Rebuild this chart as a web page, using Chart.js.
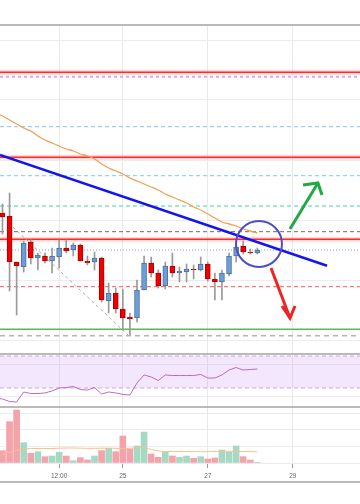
<!DOCTYPE html>
<html>
<head>
<meta charset="utf-8">
<script src="https://cdn.jsdelivr.net/npm/chart.js@4.4.3/dist/chart.umd.min.js"></script>
<style>
  html, body { margin: 0; padding: 0; background: #fff; }
  #wrap { width: 360px; height: 504px; }
</style>
</head>
<body>
<div id="wrap"><canvas id="chart" width="360" height="504"></canvas></div>
<script>
// x axis is the candle index
const opens  = [247, 244, 198, 193, 218, 202, 204, 199, 203, 212, 210, 215, 199, 198, 202, 159, 167, 151, 143, 142, 170, 197, 187, 174, 194, 187, 188, 191, 190, 196, 181, 178, 186, 204, 214, 208, 207];
const closes = [243, 198, 194, 217, 202, 205, 199, 204, 212, 209, 215, 199, 197, 202, 160, 167, 151, 142, 141, 170, 197, 187, 174, 194, 187, 189, 191, 190, 196, 181, 178, 187, 204, 213, 208, 207, 210];
const highs  = [256, 267, 198, 219, 220, 207, 207, 212, 220, 220, 217, 216, 204, 208, 203, 177, 172, 171, 147, 180, 204, 203, 190, 198, 207, 193, 196, 195, 203, 198, 187, 190, 207, 217, 219, 211, 212];
const lows   = [226, 169, 145, 188, 196, 190, 197, 187, 192, 207, 204, 199, 195, 190, 158, 147, 147, 130, 125, 138, 170, 183, 172, 171, 183, 178, 178, 181, 189, 179, 160, 160, 184, 198, 206, 206, 206];
const volumes = [7.4, 24.8, 31.8, 12.2, 5.8, 6.8, 3.8, 4.2, 6.4, 4.2, 1.4, 3.2, 1.8, 4.2, 7.4, 8.8, 6.8, 16.2, 8.4, 10.2, 18.6, 5.4, 3.4, 6.4, 4.2, 3.4, 4.2, 2.8, 3.8, 2.4, 3.0, 7.8, 6.4, 10.2, 3.8, 1.8, 0.2];
const volumeAvg = [5.1, 6.3, 7.5, 8.4, 8.7, 8.7, 8.7, 8.7, 8.9, 9.0, 9.0, 8.9, 8.8, 8.8, 8.9, 8.9, 8.8, 8.6, 8.9, 9.1, 9.3, 8.1, 7.2, 6.9, 6.9, 6.9, 6.9, 6.8, 6.8, 6.8, 6.9, 7.0, 7.0, 7.0, 6.9, 6.9, 6.7];
// these two start one candle before the first one
const priceAvg = [347, 344, 340, 336, 332, 329, 324, 320, 317, 314, 311, 309, 306, 304, 301, 296, 292, 289, 286, 282, 279, 276, 273, 270, 266, 263, 260, 257, 253, 250, 246, 242, 238, 236, 234, 231, 229, 227];
const rsiValues = [17.5, 16.3, 13.1, 12.5, 25, 23.1, 23.1, 23.8, 26.3, 30, 30.6, 31.9, 28.1, 27.5, 30.6, 22.5, 25, 23.8, 21.9, 21.3, 36.3, 46.3, 43.8, 39.4, 46.3, 45.6, 45.6, 45.6, 45.6, 46.9, 42.5, 42.5, 46.3, 52.5, 55.6, 52.5, 53.1, 53.8];

const xTickPos = [8, 17, 29, 41];
const xTickLabels = ['12:00', '25', '27', '29'];
const priceGrid = [120, 180, 240, 300, 360, 420];
const rsiGrid = [60, 20];
const volGrid = [0, 10, 20, 30];
const rsiBand = [70, 30];

const levelPrices = [387.7, 383.3, 333.3, 302.7, 284.3, 254, 228.3, 220.7, 210, 173.3, 130.7, 124.3];
const levelKinds = ['red', 'purpleDot', 'blueDash', 'red', 'blueDash', 'tealDash', 'brownDash', 'red', 'blueDot', 'redDash', 'green', 'grayDash'];

const trendLine = [{x: -0.35, y: 305}, {x: 45.84, y: 194.2}];
const swingLine = [{x: 1.49, y: 233}, {x: 17.73, y: 125}];
const circleMark = [{x: 36.23, y: 216}];
const upArrow = [{x: 40.61, y: 231}, {x: 44.56, y: 277}];
const upHead = [{x: 42.45, y: 275}, {x: 44.56, y: 277}, {x: 45.13, y: 265}];
const downArrow = [{x: 37.93, y: 192}, {x: 40.61, y: 142}];
const downHead = [{x: 39.48, y: 154}, {x: 40.61, y: 142}, {x: 41.32, y: 154}];

const levelStyles = {
    red:       { color: '#ff2a2a', width: 1.5, dash: [], halo: 'rgba(255,70,70,0.2)' },
    purpleDot: { color: '#d4a8f4', width: 2, dash: [3, 3] },
    blueDash:  { color: '#7fc7ee', width: 1, dash: [4, 3] },
    tealDash:  { color: '#3fd2b0', width: 1, dash: [4, 3] },
    brownDash: { color: '#8c5c5c', width: 1, dash: [4, 3] },
    blueDot:   { color: '#a8c2ee', width: 1.5, dash: [1, 2] },
    redDash:   { color: '#f25a5a', width: 1, dash: [4, 3] },
    green:     { color: '#5cb85c', width: 1.5, dash: [] },
    grayDash:  { color: '#b3b3b3', width: 1.5, dash: [5, 4] }
};

const idx = opens.map((_, i) => i);
const isUp = i => closes[i] >= opens[i];

const panelPlugin = {
    id: 'panels',
    beforeDatasetsDraw(chart) {
        const { ctx, chartArea: a, scales } = chart;
        const hline = (y, color, width, dash) => {
            ctx.strokeStyle = color;
            ctx.lineWidth = width;
            ctx.setLineDash(dash);
            ctx.beginPath();
            ctx.moveTo(a.left, y);
            ctx.lineTo(a.right, y);
            ctx.stroke();
        };
        ctx.save();
        // rsi band
        const yR = scales.yRsi;
        const t = yR.getPixelForValue(rsiBand[0]);
        const b = yR.getPixelForValue(rsiBand[1]);
        ctx.fillStyle = 'rgba(204,160,242,0.25)';
        ctx.fillRect(a.left, t, a.width, b - t);
        hline(t, '#cbaadf', 1, [4, 3]);
        hline(b, '#cbaadf', 1, [4, 3]);
        // horizontal levels
        levelPrices.forEach((p, i) => {
            const s = levelStyles[levelKinds[i]];
            const y = scales.y.getPixelForValue(p);
            if (s.halo) hline(y, s.halo, 5, []);
            hline(y, s.color, s.width, s.dash);
        });
        ctx.restore();
    },
    afterDraw(chart) {
        const { ctx, chartArea: a, scales } = chart;
        ctx.save();
        ctx.strokeStyle = '#a3a3a3';
        ctx.lineWidth = 1.5;
        [scales.y.top, scales.yRsi.top, scales.yVol.top, scales.x.bottom].forEach(y => {
            ctx.beginPath();
            ctx.moveTo(a.left, y);
            ctx.lineTo(a.right, y);
            ctx.stroke();
        });
        ctx.restore();
    }
};

const hiddenY = (weight, min, max, grid) => ({
    type: 'linear',
    position: 'right',
    stack: 'panes',
    stackWeight: weight,
    min: min,
    max: max,
    border: { display: false },
    grid: { color: '#ececec', drawTicks: false },
    ticks: { display: false },
    afterBuildTicks: s => { s.ticks = grid.map(v => ({ value: v })); },
    afterFit: s => { s.width = 0; }
});

new Chart(document.getElementById('chart'), {
    type: 'line',
    data: {
        datasets: [
            {
                data: circleMark, showLine: false, pointRadius: 23, pointHoverRadius: 23,
                pointBackgroundColor: 'rgba(0,0,0,0)', pointBorderColor: '#4b4bd0', pointBorderWidth: 2,
                yAxisID: 'y', order: 0
            },
            { data: upArrow, borderColor: '#22a845', borderWidth: 3, pointRadius: 0, yAxisID: 'y', order: 0 },
            { data: upHead, borderColor: '#22a845', borderWidth: 3, pointRadius: 0, yAxisID: 'y', order: 0 },
            { data: downArrow, borderColor: '#ee2424', borderWidth: 3, pointRadius: 0, yAxisID: 'y', order: 0 },
            { data: downHead, borderColor: '#ee2424', borderWidth: 3, pointRadius: 0, yAxisID: 'y', order: 0 },
            { data: trendLine, borderColor: '#1414f0', borderWidth: 2.5, pointRadius: 0, yAxisID: 'y', order: 2 },
            {
                data: priceAvg.map((v, i) => ({ x: i - 1, y: v })),
                borderColor: '#f0a050', borderWidth: 1.3, pointRadius: 0, tension: 0.3, yAxisID: 'y', order: 3
            },
            {
                type: 'bar',
                data: idx.map(i => ({ x: i, y: [opens[i], closes[i]] })),
                backgroundColor: idx.map(i => isUp(i) ? '#6a9de0' : '#f20000'),
                borderColor: idx.map(i => isUp(i) ? '#4f7488' : '#a80000'),
                borderWidth: 1, borderSkipped: false, barThickness: 5, grouped: false,
                yAxisID: 'y', order: 4
            },
            {
                type: 'bar',
                data: idx.map(i => ({ x: i, y: [lows[i], highs[i]] })),
                backgroundColor: '#9a9a9a', barThickness: 1, grouped: false,
                yAxisID: 'y', order: 5
            },
            {
                data: swingLine, borderColor: '#ababab', borderWidth: 1, borderDash: [3, 3],
                pointRadius: 0, yAxisID: 'y', order: 6
            },
            {
                data: rsiValues.map((v, i) => ({ x: i - 1, y: v })),
                borderColor: '#c264d2', borderWidth: 1, pointRadius: 0, yAxisID: 'yRsi', order: 3
            },
            {
                data: volumeAvg.map((v, i) => ({ x: i, y: v })),
                borderColor: '#ffbd8a', borderWidth: 1, pointRadius: 0, yAxisID: 'yVol', order: 3
            },
            {
                type: 'bar',
                data: idx.map(i => ({ x: i, y: volumes[i] })),
                backgroundColor: idx.map(i => isUp(i) ? '#a5d9c3' : '#f4a3aa'),
                barThickness: 6, grouped: false, yAxisID: 'yVol', order: 5
            }
        ]
    },
    options: {
        responsive: false,
        animation: false,
        devicePixelRatio: 1,
        events: [],
        layout: { autoPadding: false, padding: { top: 25, bottom: 22, left: 0, right: 0 } },
        plugins: { legend: { display: false }, tooltip: { enabled: false } },
        scales: {
            x: {
                type: 'linear',
                min: -0.35,
                max: 50.5,
                offset: false,
                border: { display: false },
                grid: { offset: false, color: '#e9e9e9', tickColor: '#9a9a9a', tickLength: 5 },
                ticks: {
                    font: { family: 'Liberation Sans', size: 6.5 },
                    color: '#666',
                    padding: 4,
                    maxRotation: 0,
                    autoSkip: false,
                    callback: v => xTickLabels[xTickPos.indexOf(v)] ?? ''
                },
                afterBuildTicks: s => { s.ticks = xTickPos.map(v => ({ value: v })); },
                afterFit: s => { s.height = 19; }
            },
            y: hiddenY(329, 106, 435, priceGrid),
            yRsi: hiddenY(53, 6.25, 72.5, rsiGrid),
            yVol: hiddenY(56, 0, 33.6, volGrid)
        }
    },
    plugins: [panelPlugin]
});
</script>
</body>
</html>
